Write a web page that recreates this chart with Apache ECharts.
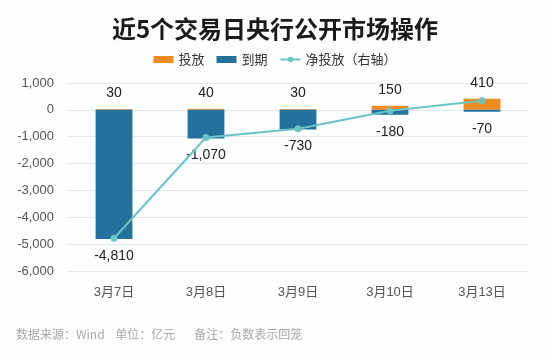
<!DOCTYPE html>
<html><head><meta charset="utf-8">
<script src="https://cdn.jsdelivr.net/npm/echarts@6/dist/echarts.min.js"></script>
<style>html,body{margin:0;padding:0;background:#fcfdfe;}#c{width:550px;height:361px;}</style>
</head><body><div id="c"></div>
<script>
const categories = ['3月7日','3月8日','3月9日','3月10日','3月13日'];
const injection = [30, 40, 30, 150, 410];
const maturity = [-4810, -1070, -730, -180, -70];
const netInjection = [-4780, -1030, -700, -30, 340];
const yTicks = {min: -6000, max: 1000, interval: 1000};

const chart = echarts.init(document.getElementById('c'), null, {renderer: 'canvas'});
const fmt = v => v.toLocaleString('en-US');
const numFont = '"Liberation Sans", Arial, "Noto Sans CJK SC", sans-serif';
chart.setOption({
  backgroundColor: '#fcfdfe',
  animation: false,
  title: {
    text: '近5个交易日央行公开市场操作', left: 'center', top: 12,
    textStyle: {fontSize: 24, fontWeight: 'bold', color: '#1a1a1a', fontFamily: 'Noto Sans CJK SC'}
  },
  legend: {
    top: 48, left: 'center', itemWidth: 20, itemHeight: 7, itemGap: 12,
    textStyle: {fontSize: 13, color: '#333', fontFamily: 'Noto Sans CJK SC'},
    data: [{name: '投放', icon: 'rect'}, {name: '到期', icon: 'rect'}, {name: '净投放（右轴）'}]
  },
  grid: {left: 68, right: 22, top: 83, bottom: 90},
  xAxis: {
    type: 'category', data: categories,
    axisLine: {show: false}, axisTick: {show: false},
    axisLabel: {fontSize: 13, color: '#555', margin: 15, fontFamily: numFont}
  },
  yAxis: [{
    type: 'value', min: yTicks.min, max: yTicks.max, interval: yTicks.interval,
    axisLabel: {fontSize: 13, color: '#555', formatter: v => fmt(v), margin: 14, fontFamily: numFont},
    splitLine: {lineStyle: {color: '#e6e9ec'}}
  }, {
    type: 'value', min: yTicks.min, max: yTicks.max, interval: yTicks.interval, show: false
  }],
  series: [{
    name: '投放', type: 'bar', stack: 's', data: injection, barWidth: '40%',
    itemStyle: {color: '#f28a1e'},
    label: {show: true, position: 'top', distance: 9, fontSize: 14, color: '#222', fontFamily: numFont, formatter: p => fmt(p.value)}
  }, {
    name: '到期', type: 'bar', stack: 's', data: maturity, barWidth: '40%',
    itemStyle: {color: '#23729e'},
    label: {show: true, position: 'bottom', distance: 10, fontSize: 14, color: '#222', fontFamily: numFont, formatter: p => fmt(p.value)}
  }, {
    name: '净投放（右轴）', type: 'line', yAxisIndex: 1, data: netInjection,
    symbol: 'circle', symbolSize: 7,
    lineStyle: {color: '#6cc3c3', width: 2}, itemStyle: {color: '#6cc3c3'}
  }],
  graphic: [{
    type: 'text', left: 16, top: 328,
    style: {text: '数据来源：Wind    单位：亿元       备注：负数表示回笼', fontSize: 12, fill: '#a8a8a8', fontFamily: 'Noto Sans CJK SC'}
  }]
});
</script></body></html>
